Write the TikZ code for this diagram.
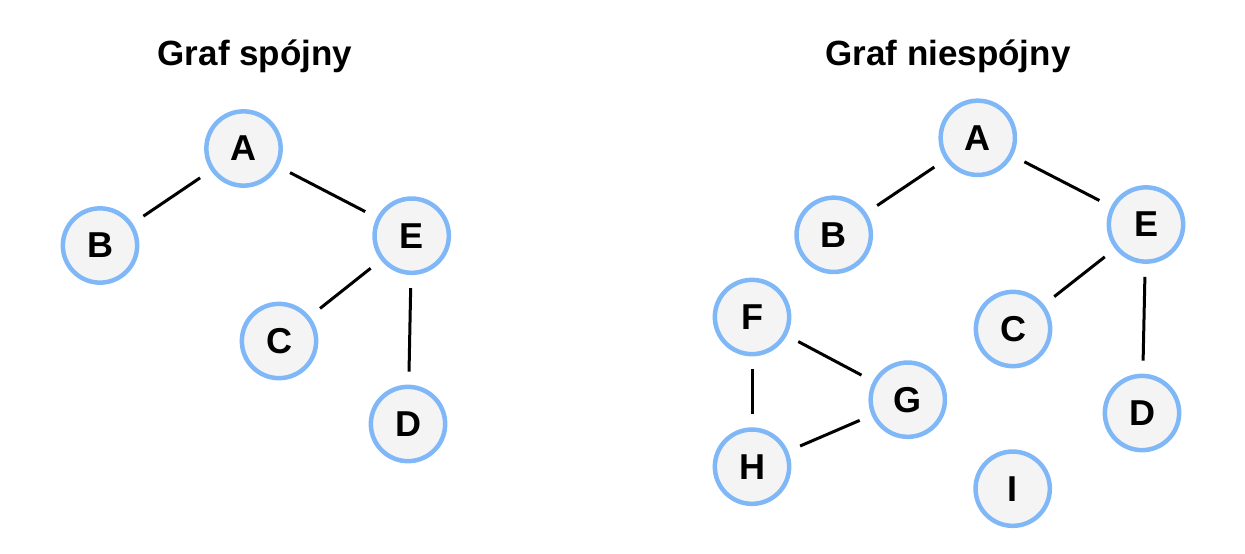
\documentclass[tikz,border=0pt]{standalone}
\usepackage{fontspec}
\setmainfont{Liberation Sans}
\definecolor{ringblue}{HTML}{80B8F7}
\definecolor{nodefill}{HTML}{F4F4F5}
\begin{document}
\begin{tikzpicture}[x=1pt, y=-1pt,
    main/.style = {draw=ringblue, fill=nodefill, circle, line width=4.5pt, minimum size=74.3pt, inner sep=0pt, font=\fontsize{36}{40}\selectfont\bfseries},
    title/.style = {anchor=base, font=\fontsize{35}{40}\selectfont\bfseries},
    edge/.style = {line width=3pt, shorten >=13pt, shorten <=13pt}]
    \useasboundingbox (0,0) rectangle (1245,554);

    % spojny
    \node[title] (t1) at (255,65) {Graf spójny};
    \node[main] (1) at (243.5,148.5) {A};
    \node[main] (2) at (100,245.5) {B};
    \node[main] (5) at (411.7,235.7) {E};
    \node[main] (3) at (279,341) {C};
    \node[main] (4) at (408,424) {D};

    \draw[edge] (1) -- (2);
    \draw[edge] (1) -- (5);
    \draw[edge] (5) -- (3);
    \draw[edge] (5) -- (4);

    % niespojny
    \node[title] (t2) at (948,65) {Graf niespójny};
    \node[main] (6) at (977.8,137.8) {A};
    \node[main] (7) at (833.7,234.8) {B};
    \node[main] (10) at (1146,224.5) {E};
    \node[main] (8) at (1013,329) {C};
    \node[main] (9) at (1142,413) {D};
    \node[main] (11) at (752,317) {F};
    \node[main] (12) at (907.8,399.7) {G};
    \node[main] (13) at (752,466.7) {H};
    \node[main] (14) at (1012.7,488.7) {I};

    \draw[edge] (6) -- (7);
    \draw[edge] (6) -- (10);
    \draw[edge] (10) -- (8);
    \draw[edge] (10) -- (9);
    \draw[edge] (11) -- (12);
    \draw[edge] (11) -- (13);
    \draw[edge] (13) -- (12);
\end{tikzpicture}
\end{document}
